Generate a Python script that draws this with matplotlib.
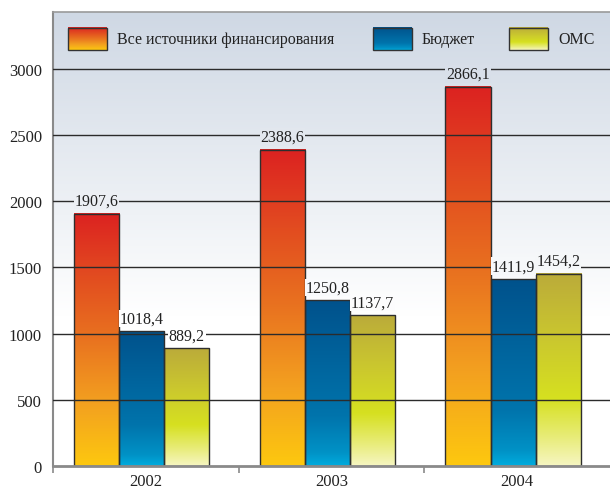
import numpy as np
import matplotlib
matplotlib.use("Agg")
import matplotlib.pyplot as plt
from matplotlib.colors import LinearSegmentedColormap, to_rgb
from matplotlib.patches import Rectangle

plt.rcParams['font.family'] = ['Liberation Serif', 'DejaVu Serif']

# --- data ---------------------------------------------------------------
years = ["2002", "2003", "2004"]
series_names = ["Все источники финансирования", "Бюджет", "ОМС"]
all_sources = [1907.6, 2388.6, 2866.1]
budget = [1018.4, 1250.8, 1411.9]
oms = [889.2, 1137.7, 1454.2]
y_ticks = [0, 500, 1000, 1500, 2000, 2500, 3000]

# --- colour ramps (bottom -> top of each bar) ---------------------------
ramps = [
    LinearSegmentedColormap.from_list("red", [
        (0.00, "#fdc80f"), (0.25, "#f3a020"), (0.50, "#e9731f"),
        (0.75, "#e24c20"), (1.00, "#dc2221")]),
    LinearSegmentedColormap.from_list("blue", [
        (0.00, "#00acde"), (0.08, "#0092c6"), (0.30, "#0074ac"),
        (1.00, "#00528c")]),
    LinearSegmentedColormap.from_list("green", [
        (0.00, "#f6f6c2"), (0.15, "#e8ec78"), (0.35, "#d6e020"),
        (0.65, "#cbc82e"), (1.00, "#bbab3a")]),
]

bg_top = np.array(to_rgb("#cfd8e4"))
bg_white_from = 0.33  # axes fraction below which the background is white


def bg_color(frac):
    t = np.clip((frac - bg_white_from) / (1 - bg_white_from), 0, 1)
    return tuple(1 - (1 - bg_top) * t)


fig = plt.figure(figsize=(6.1, 4.89), dpi=100)
ax = fig.add_axes([53 / 610, 22 / 489, 557 / 610, 454 / 489])

y_max = 3430
x_min, x_max = -0.5, 2.5

# background: white at the bottom, fading into pale grey-blue at the top
fr = np.linspace(0, 1, 256)
bg = np.array([bg_color(f) for f in fr])[:, None, :]
ax.imshow(bg, extent=[0, 1, 0, 1], transform=ax.transAxes, origin='lower',
          aspect='auto', zorder=0)

# bars
w = 0.243
shift = -0.022
x = np.arange(len(years))
series = [all_sources, budget, oms]
grad = np.linspace(0, 1, 256)[:, None]
for i, (vals, cmap) in enumerate(zip(series, ramps)):
    bars = ax.bar(x + (i - 1) * w + shift, vals, width=w, facecolor='none',
                  edgecolor='#2e2e2e', linewidth=1.0, zorder=2.2)
    for rect, v in zip(bars, vals):
        x0, bw, h = rect.get_x(), rect.get_width(), rect.get_height()
        ax.imshow(grad, extent=[x0, x0 + bw, 0, h], origin='lower',
                  aspect='auto', cmap=cmap, zorder=2)
        frac = (h + 150) / y_max
        ax.annotate(f"{v:.1f}".replace(".", ","),
                    (x0 + bw / 2, h), xytext=(0, 3.5), textcoords='offset points',
                    ha='center', va='bottom', fontsize=11.5, color='#222222',
                    zorder=4,
                    bbox=dict(boxstyle='square,pad=0.05', fc=bg_color(frac),
                              ec='none'))

# horizontal rules drawn over the bars
for t in y_ticks[1:]:
    ax.axhline(t, color='#2b2b2b', linewidth=1.0, zorder=3)

ax.set_xlim(x_min, x_max)
ax.set_ylim(0, y_max)

ax.set_yticks(y_ticks)
ax.set_yticklabels([str(t) for t in y_ticks])
ax.tick_params(axis='y', length=0, pad=8, labelsize=12, labelcolor='#222222')

ax.set_xticks(x)
ax.set_xticklabels(years)
ax.set_xticks([-0.5, 0.5, 1.5], minor=True)
ax.tick_params(axis='x', which='major', length=0, pad=5, labelsize=12,
               labelcolor='#222222')
ax.tick_params(axis='x', which='minor', length=5, width=1.2, color='#8a8a8a',
               direction='out')

ax.spines['right'].set_visible(False)
ax.spines['left'].set_color('#8a8a8a')
ax.spines['left'].set_linewidth(1.5)
ax.spines['top'].set_color('#9a9a9a')
ax.spines['top'].set_linewidth(1.2)
ax.spines['bottom'].set_color('#8a8a8a')
ax.spines['bottom'].set_linewidth(2.0)

# legend row along the top of the plot
key_x = [0.027, 0.5745, 0.8187]
key_w = 0.070
key_y0, key_y1 = 0.916, 0.965
for kx, name, cmap in zip(key_x, series_names, ramps):
    ax.imshow(grad, extent=[kx, kx + key_w, key_y0, key_y1],
              transform=ax.transAxes, origin='lower', aspect='auto',
              cmap=cmap, zorder=5)
    ax.add_patch(Rectangle((kx, key_y0), key_w, key_y1 - key_y0,
                           transform=ax.transAxes, fc='none', ec='#333333',
                           lw=1.0, zorder=6))
    ax.text(kx + key_w + 0.018, (key_y0 + key_y1) / 2, name,
            transform=ax.transAxes, ha='left', va='center', fontsize=11.5,
            color='#222222', zorder=6)

ax.set_xlim(x_min, x_max)
ax.set_ylim(0, y_max)

fig.savefig("out.png", dpi=100)
